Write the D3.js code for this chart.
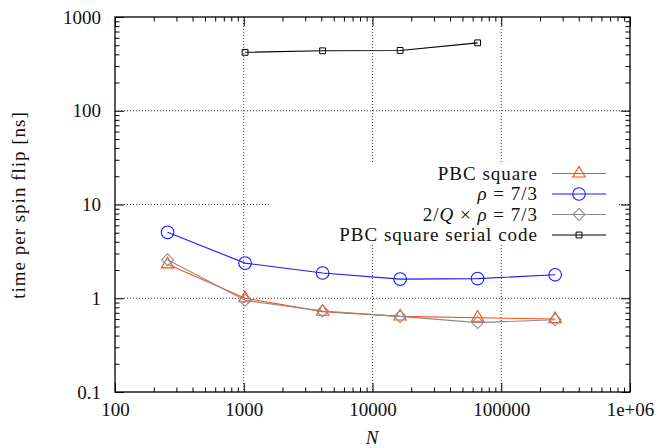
<!DOCTYPE html>
<html lang="en">
<head>
    <meta charset="UTF-8">
    <title>Time per spin flip</title>
    <script type="text/javascript" src="https://cdn.jsdelivr.net/npm/d3@7"></script>
    <style type="text/css">
        body {margin: 0; background: #fff;}
        svg text {font-family: "Liberation Serif", "Times New Roman", serif; fill: #111;}
        .axis line {stroke: #000; stroke-width: 1;}
        .axis path {display: none;}
        .axis text {font-size: 19px;}
        .grid {stroke: #222; stroke-width: 0.9; stroke-dasharray: 1,2;}
        .word {font-size: 19px; letter-spacing: 1px;}
    </style>
</head>
<body>
    <script type="text/javascript">

        //Width and height
        var w = 663;
        var h = 448;

        // data
        var sizes = [256, 1024, 4096, 16384, 65536, 262144];
        var pbcSquare = [2.3, 1.0, 0.72, 0.64, 0.62, 0.60];
        var rho73 = [5.05, 2.37, 1.86, 1.60, 1.62, 1.78];
        var qRho73 = [2.57, 0.95, 0.73, 0.64, 0.55, 0.59];
        var serialSizes = [1024, 4096, 16384, 65536];
        var serialCode = [420, 436, 440, 530];

        var xTicks = [100, 1000, 10000, 100000, 1000000];
        var xTickLabels = ["100", "1000", "10000", "100000", "1e+06"];
        var yTicks = [0.1, 1, 10, 100, 1000];
        var yTickLabels = ["0.1", "1", "10", "100", "1000"];

        var pLeft = 115, pRight = 630, pTop = 17, pBottom = 392;

        var x = d3.scaleLog().domain([100, 1e6]).range([pLeft, pRight]);
        var y = d3.scaleLog().domain([0.1, 1000]).range([pBottom, pTop]);

        // minor ticks 2..9 in every decade
        function minors(lo, hi) {
            var out = [];
            for (var e = lo; e < hi; e++) {
                for (var k = 2; k < 10; k++) out.push(k * Math.pow(10, e));
            }
            return out;
        }
        var xMinor = minors(2, 6);
        var yMinor = minors(-1, 3);

        var series = [
            {name: "pbc", xs: sizes, ys: pbcSquare, color: "#ff4a10", sym: "triangle"},
            {name: "rho", xs: sizes, ys: rho73, color: "#1a1aff", sym: "circle"},
            {name: "q", xs: sizes, ys: qRho73, color: "#8c8c8c", sym: "diamond"},
            {name: "serial", xs: serialSizes, ys: serialCode, color: "#000", sym: "square"}
        ];

        //Create SVG element
        var svg = d3.select("body")
            .append("svg")
            .attr("width", w)
            .attr("height", h);

        // grid at the inner major ticks
        svg.selectAll(".gx")
            .data(xTicks.slice(1, -1))
            .enter()
            .append("line")
            .attr("class", "grid")
            .attr("x1", function(d) { return x(d); })
            .attr("x2", function(d) { return x(d); })
            .attr("y1", pTop)
            .attr("y2", pBottom);

        svg.selectAll(".gy")
            .data(yTicks.slice(1, -1))
            .enter()
            .append("line")
            .attr("class", "grid")
            .attr("x1", pLeft)
            .attr("x2", pRight)
            .attr("y1", function(d) { return y(d); })
            .attr("y2", function(d) { return y(d); });

        // key area hides the grid
        svg.append("rect")
            .attr("x", 270)
            .attr("y", 163)
            .attr("width", 348)
            .attr("height", 82)
            .attr("fill", "#fff");

        // axes, ticks pointing inward on all four sides
        function fmt(list, labels) {
            return function(d) {
                var i = list.indexOf(d);
                return i < 0 ? "" : labels[i];
            };
        }

        function addAxis(axis, tx, ty) {
            var g = svg.append("g")
                .attr("class", "axis")
                .attr("transform", "translate(" + tx + "," + ty + ")")
                .call(axis);
            g.attr("font-family", null);
            return g;
        }

        addAxis(d3.axisBottom(x).tickValues(xTicks).tickSize(-9).tickPadding(11)
            .tickFormat(fmt(xTicks, xTickLabels)), 0, pBottom);
        addAxis(d3.axisBottom(x).tickValues(xMinor).tickSize(-4.5).tickFormat(""), 0, pBottom);
        addAxis(d3.axisTop(x).tickValues(xTicks).tickSize(-9).tickFormat(""), 0, pTop);
        addAxis(d3.axisTop(x).tickValues(xMinor).tickSize(-4.5).tickFormat(""), 0, pTop);

        addAxis(d3.axisLeft(y).tickValues(yTicks).tickSize(-9).tickPadding(14)
            .tickFormat(fmt(yTicks, yTickLabels)), pLeft, 0);
        addAxis(d3.axisLeft(y).tickValues(yMinor).tickSize(-4.5).tickFormat(""), pLeft, 0);
        addAxis(d3.axisRight(y).tickValues(yTicks).tickSize(-9).tickFormat(""), pRight, 0);
        addAxis(d3.axisRight(y).tickValues(yMinor).tickSize(-4.5).tickFormat(""), pRight, 0);

        // frame
        svg.append("rect")
            .attr("x", pLeft)
            .attr("y", pTop)
            .attr("width", pRight - pLeft)
            .attr("height", pBottom - pTop)
            .attr("fill", "none")
            .attr("stroke", "#000")
            .attr("stroke-width", 1.3);

        // point symbols like gnuplot's
        var symbols = {
            triangle: d3.symbol().type(d3.symbolTriangle).size(66),
            circle: d3.symbol().type(d3.symbolCircle).size(125),
            diamond: d3.symbol().type(d3.symbolSquare).size(72),
            square: d3.symbol().type(d3.symbolSquare).size(34)
        };

        function addSymbol(g, s, px, py) {
            g.append("path")
                .attr("d", symbols[s.sym]())
                .attr("transform", "translate(" + px + "," + py + ")" + (s.sym == "diamond" ? " rotate(45)" : ""))
                .attr("fill", "none")
                .attr("stroke", s.color)
                .attr("stroke-width", s.sym == "square" ? 1 : 1.1);
        }

        var line = d3.line()
            .x(function(d) { return x(d[0]); })
            .y(function(d) { return y(d[1]); });

        series.forEach(function(s) {
            var pts = s.xs.map(function(v, i) { return [v, s.ys[i]]; });
            var g = svg.append("g");
            g.append("path")
                .attr("d", line(pts))
                .attr("fill", "none")
                .attr("stroke", s.color)
                .attr("stroke-width", 1.1);
            pts.forEach(function(p) { addSymbol(g, s, x(p[0]), y(p[1])); });
        });

        // key
        var keyRows = [173.5, 194, 214.5, 235];
        var key = svg.append("g");
        series.forEach(function(s, i) {
            var ry = keyRows[i];
            key.append("line")
                .attr("x1", 552)
                .attr("x2", 606)
                .attr("y1", ry)
                .attr("y2", ry)
                .attr("stroke", s.color)
                .attr("stroke-width", 1.1);
            addSymbol(key, s, 579, ry);
        });

        var t;
        t = key.append("text").attr("class", "word").attr("x", 538).attr("y", keyRows[0] + 6)
            .attr("text-anchor", "end").text("PBC square");

        t = key.append("text").attr("class", "word").attr("x", 538).attr("y", keyRows[1] + 6)
            .attr("text-anchor", "end");
        t.append("tspan").attr("font-style", "italic").text("ρ");
        t.append("tspan").text(" = 7/3");

        t = key.append("text").attr("class", "word").attr("x", 538).attr("y", keyRows[2] + 6)
            .attr("text-anchor", "end");
        t.append("tspan").text("2/");
        t.append("tspan").attr("font-style", "italic").text("Q");
        t.append("tspan").text(" ×  ");
        t.append("tspan").attr("font-style", "italic").text("ρ");
        t.append("tspan").text(" = 7/3");

        t = key.append("text").attr("class", "word").attr("x", 538).attr("y", keyRows[3] + 6)
            .attr("text-anchor", "end").text("PBC square serial code");

        // axis titles
        svg.append("text")
            .attr("class", "word")
            .attr("transform", "translate(25,205) rotate(-90)")
            .attr("text-anchor", "middle")
            .text("time per spin flip [ns]");

        svg.append("text")
            .attr("x", 372)
            .attr("y", 444)
            .attr("text-anchor", "middle")
            .attr("font-size", "19px")
            .attr("font-style", "italic")
            .text("N");

    </script>
</body>
</html>
